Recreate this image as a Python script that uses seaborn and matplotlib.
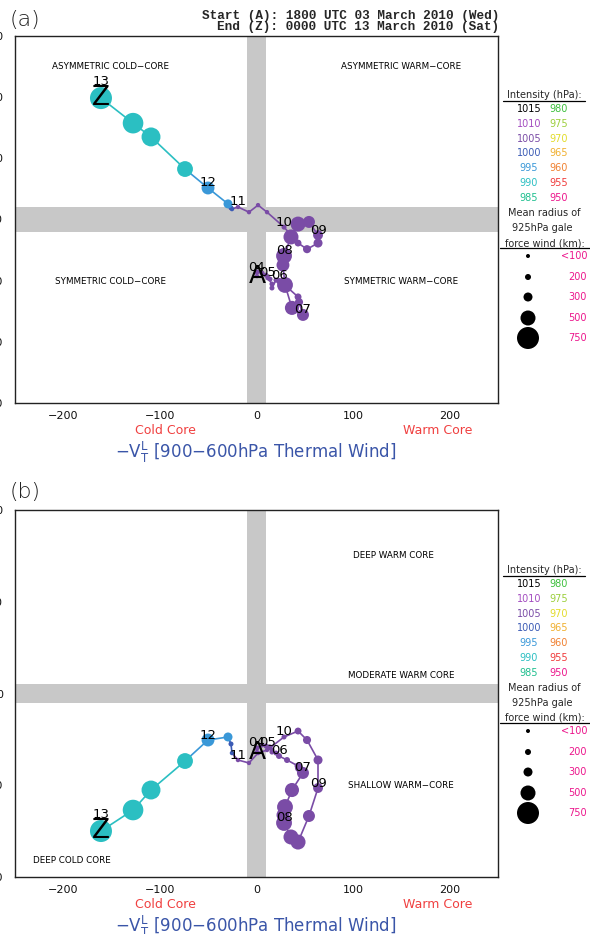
import numpy as np
import pandas as pd
import matplotlib
matplotlib.use('Agg')
import matplotlib.pyplot as plt
import seaborn as sns

# cyclone phase space track, 6-hourly from 1800 UTC 03 Mar to 0000 UTC 13 Mar 2010
vtl = [0.5, 0.5, 5.7, 9.8, 14.0, 11.9, 16.0, 16.0, 20.2, 23.3,
       31.6, 43.0, 44.0, 48.1, 36.7, 29.5, 27.4, 28.5, 35.7, 43.0,
       54.3, 63.7, 63.7, 52.3, 43.0, 28.5, 10.9, 1.6, -7.8, -19.2,
       -25.4, -26.4, -29.5, -50.2, -74.0, -109.2, -127.8, -161.0]
b_param = [-8.5, -7.2, -7.5, -8.2, -9.5, -9.1, -11.1, -12.4, -9.8, -10.1,
           -12.1, -15.3, -17.0, -21.2, -18.9, -11.4, -4.9, -1.9, 4.3, 8.5,
           9.2, 4.9, 2.3, 0.3, 2.3, 7.5, 12.4, 14.7, 12.4, 14.1,
           13.4, 13.8, 15.1, 20.3, 26.5, 37.0, 41.5, 49.7]
vtu = [-63.8, -59.4, -56.1, -57.2, -58.3, -59.4, -61.6, -63.8, -64.9, -68.1,
       -72.5, -79.0, -81.2, -86.6, -105.2, -123.7, -132.4, -141.1, -156.4, -161.9,
       -133.5, -103.0, -72.5, -50.7, -40.9, -47.4, -61.6, -64.9, -75.7, -72.5,
       -64.9, -55.0, -47.4, -50.7, -73.6, -105.2, -127.0, -149.9]
mslp = [1005] * 30 + [1000, 1000, 995, 995, 990, 990, 990, 990]
gale_km = [120, 150, 150, 150, 150, 150, 150, 150, 150, 200,
           200, 230, 270, 400, 470, 530, 430, 530, 500, 500,
           400, 330, 300, 270, 230, 150, 120, 120, 120, 120,
           120, 150, 300, 430, 530, 640, 700, 750]
day_label = ['', '04', '', '', '', '05', '', '', '', '06',
             '', '', '', '07', '', '', '', '08', '', '',
             '', '09', '', '', '', '10', '', '', '', '11',
             '', '', '', '12', '', '', '', '13']

# legend tables
int_left = [1015, 1010, 1005, 1000, 995, 990, 985]
int_right = [980, 975, 970, 965, 960, 955, 950]
int_colors = {1015: '#000000', 1010: '#a34cc0', 1005: '#7a4ca6', 1000: '#3b5bb5',
              995: '#3a98d8', 990: '#2bbfc2', 985: '#1fbf8f', 980: '#3cbf3c',
              975: '#9ccf3c', 970: '#e2dc2a', 965: '#f0b030', 960: '#f08030',
              955: '#f03c3c', 950: '#ec168c'}
size_km = [100, 200, 300, 500, 750]
size_lbl = ['<100', '200', '300', '500', '750']
size_px = [4, 6, 9, 15, 22]

xticks = [-200, -100, 0, 100, 200]
yticks_a = [-50, -30, -10, 10, 30, 50, 70]
yticks_b = [-200, -100, 0, 100, 200]

sns.set_theme(style='white')
plt.rcParams['font.family'] = ['DejaVu Sans']

df = pd.DataFrame({'vtl': vtl, 'B': b_param, 'vtu': vtu, 'mslp': mslp, 'km': gale_km})
diam = np.interp(df['km'], size_km, size_px)
df['area'] = (diam * 0.72) ** 2

fig = plt.figure(figsize=(5.9, 9.34), dpi=100)
W, H = 590, 934


def px_axes(left, top, right, bottom):
    return fig.add_axes([left / W, 1 - bottom / H, (right - left) / W, (bottom - top) / H])


band = '#c8c8c8'
ax_a = px_axes(15, 36, 498, 403)
ax_b = px_axes(15, 510, 498, 877)


def draw_panel(ax, ycol, ylim, yticks, hband, quads):
    ax.axvspan(-10, 10, color=band, lw=0, zorder=0)
    ax.axhspan(hband[0], hband[1], color=band, lw=0, zorder=0)
    for i in range(len(df) - 1):
        ax.plot(df['vtl'][i:i + 2], df[ycol][i:i + 2], color=int_colors[df['mslp'][i]],
                lw=1.2, zorder=2, solid_capstyle='round')
    sns.scatterplot(data=df, x='vtl', y=ycol, hue='mslp', palette=int_colors,
                    s=df['area'].values, linewidth=0, edgecolor='none',
                    legend=False, ax=ax, zorder=3)
    for i, lab in enumerate(day_label):
        if lab:
            off = 12 if i == len(df) - 1 else 3.6
            ax.annotate(lab, (df['vtl'][i], df[ycol][i]), xytext=(0, off),
                        textcoords='offset points', ha='center', va='center',
                        fontsize=9.5, color='black', zorder=5)
    ax.annotate('A', (df['vtl'][0], df[ycol][0]), ha='center', va='center',
                fontsize=18, color='black', zorder=5)
    ax.annotate('Z', (df['vtl'].iloc[-1], df[ycol].iloc[-1]), ha='center', va='center',
                fontsize=19, color='black', zorder=5)
    ax.set_xlim(-250, 250)
    ax.set_ylim(*ylim)
    ax.set_xticks(xticks)
    ax.set_yticks(yticks)
    ax.set_xlabel('')
    ax.set_ylabel('')
    for s in ax.spines.values():
        s.set_color('#222222')
        s.set_linewidth(1.0)
    ax.tick_params(axis='both', direction='out', length=3, width=0.8, color='#222222',
                   labelsize=8, labelcolor='#111111')
    ax.tick_params(axis='x', pad=3)
    ax.tick_params(axis='y', pad=5.5)
    for txt, xf, yf in quads:
        ax.text(xf, yf, txt, transform=ax.transAxes, ha='center', va='center',
                fontsize=6.3, color='black')
    ax.text(0.311, -0.076, 'Cold Core', transform=ax.transAxes, ha='center', va='center',
            fontsize=9, color='#f04040')
    ax.text(0.876, -0.076, 'Warm Core', transform=ax.transAxes, ha='center', va='center',
            fontsize=9, color='#f04040')
    ax.text(0.499, -0.136, '\u2212V$_\\mathregular{T}^\\mathregular{L}$ [900\u2212600hPa Thermal Wind]',
            transform=ax.transAxes, ha='center', va='center', fontsize=12, color='#3a55a8')


draw_panel(ax_a, 'B', (-50, 70), yticks_a, (5.75, 14.25),
           [('ASYMMETRIC COLD\u2212CORE', 0.197, 0.916), ('ASYMMETRIC WARM\u2212CORE', 0.799, 0.916),
            ('SYMMETRIC COLD\u2212CORE', 0.197, 0.332), ('SYMMETRIC WARM\u2212CORE', 0.799, 0.332)])
draw_panel(ax_b, 'vtu', (-200, 200), yticks_b, (-10, 10),
           [('DEEP WARM CORE', 0.783, 0.875), ('MODERATE WARM CORE', 0.799, 0.548),
            ('SHALLOW WARM\u2212CORE', 0.799, 0.248), ('DEEP COLD CORE', 0.118, 0.046)])

# overlay in pixel coordinates for headers and legends
ov = fig.add_axes([0, 0, 1, 1], zorder=10)
ov.set_xlim(0, W)
ov.set_ylim(H, 0)
ov.axis('off')

ov.text(10, 20, '(a)', fontsize=16, fontweight='light', ha='left', va='center', color='#222222')
ov.text(10, 492, '(b)', fontsize=16, fontweight='light', ha='left', va='center', color='#222222')
ov.text(499, 16, 'Start (A): 1800 UTC 03 March 2010 (Wed)', ha='right', va='center',
        family='Liberation Mono', fontweight='bold', fontsize=9.2)
ov.text(499, 27, 'End (Z): 0000 UTC 13 March 2010 (Sat)', ha='right', va='center',
        family='Liberation Mono', fontweight='bold', fontsize=9.2)


def draw_legend(top):
    ov.text(544, top + 59, 'Intensity (hPa):', ha='center', va='center', fontsize=7)
    ov.plot([503, 585], [top + 64.5, top + 64.5], color='black', lw=0.9)
    for k, (pl, pr) in enumerate(zip(int_left, int_right)):
        yy = top + 73 + k * 14.8
        ov.text(529, yy, str(pl), ha='center', va='center', fontsize=7, color=int_colors[pl])
        ov.text(559, yy, str(pr), ha='center', va='center', fontsize=7, color=int_colors[pr])
    ov.text(544, top + 177, 'Mean radius of', ha='center', va='center', fontsize=7)
    ov.text(542, top + 192, '925hPa gale', ha='center', va='center', fontsize=7)
    ov.text(545, top + 207, 'force wind (km):', ha='center', va='center', fontsize=7)
    ov.plot([500, 590], [top + 211.5, top + 211.5], color='black', lw=0.9)
    ys = [top + 220, top + 241, top + 261, top + 282, top + 302]
    d = np.interp(size_km, size_km, size_px)
    ov.scatter([528] * len(ys), ys, s=(d * 0.72) ** 2, color='black', linewidth=0)
    for yy, lab in zip(ys, size_lbl):
        ov.text(587, yy, lab, ha='right', va='center', fontsize=7, color='#ec168c')


draw_legend(36)
draw_legend(511)

fig.savefig('out.png', dpi=100)
